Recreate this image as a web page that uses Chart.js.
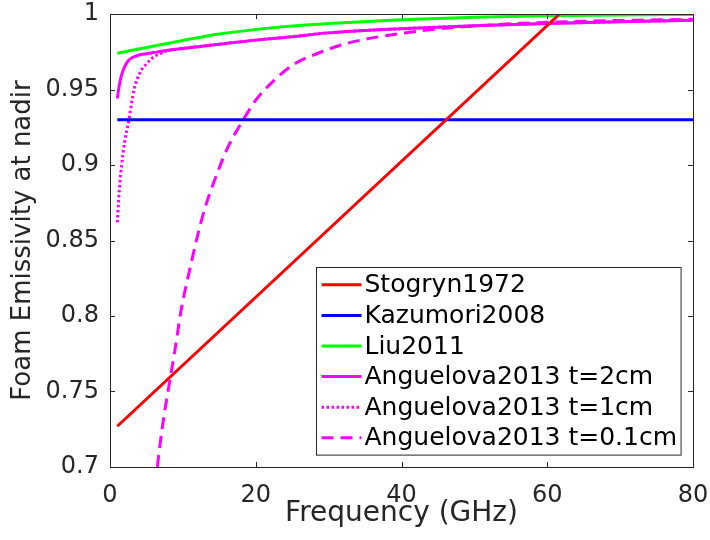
<!DOCTYPE html>
<html><head><meta charset="utf-8">
<script src="https://cdn.jsdelivr.net/npm/chart.js@4/dist/chart.umd.min.js"></script>
<style>html,body{margin:0;padding:0;background:#fff;}#wrap{width:710px;height:540px;}</style>
</head><body><div id="wrap"><canvas id="c" width="710" height="540"></canvas></div>
<script>
// ---- data ----
const xTicks = [0, 20, 40, 60, 80];
const yTicks = [0.7, 0.75, 0.8, 0.85, 0.9, 0.95, 1];

const stogrynF = [1, 61.7];
const stogrynE = [0.727, 1.0];

const kazumoriF = [1, 80];
const kazumoriE = [0.93, 0.93];

const liuF = [1, 5, 10, 15, 20, 25, 30, 40, 50, 60, 70, 80];
const liuE = [0.974, 0.9778, 0.9825, 0.9868, 0.9897, 0.992, 0.9937, 0.9962, 0.9978, 0.9988, 0.9994, 0.9997];

const ang2F = [1, 1.25, 1.5, 1.75, 2, 2.5, 3, 3.5, 4, 5, 6, 8, 10, 15, 20, 25, 30, 40, 50, 60, 70, 80];
const ang2E = [0.944, 0.952, 0.958, 0.962, 0.965, 0.969, 0.971, 0.972, 0.9728, 0.9737, 0.9745, 0.976, 0.9772, 0.980, 0.9827, 0.985, 0.9875, 0.9903, 0.9922, 0.9937, 0.9949, 0.9958];

const ang1F = [1, 1.3, 1.6, 2, 2.6, 3.3, 4.1, 5, 6, 7, 8, 10, 15, 20, 25, 30, 40, 50, 60, 70, 80];
const ang1E = [0.862, 0.885, 0.900, 0.915, 0.930, 0.950, 0.961, 0.967, 0.9715, 0.974, 0.9758, 0.9772, 0.980, 0.9827, 0.985, 0.9875, 0.9903, 0.9922, 0.9937, 0.9949, 0.9958];

const ang01F = [6, 6.5, 7.2, 8.2, 8.9, 9.8, 11, 11.9, 13, 14.2, 16.2, 18.3, 20, 22.4, 25, 28.8, 32.5, 37, 44.8, 55, 65, 80];
const ang01E = [0.675, 0.70, 0.727, 0.757, 0.777, 0.805, 0.832, 0.851, 0.871, 0.888, 0.912, 0.930, 0.943, 0.9555, 0.966, 0.9745, 0.9805, 0.985, 0.990, 0.9935, 0.9952, 0.9965];

const seriesNames = ['Stogryn1972', 'Kazumori2008', 'Liu2011', 'Anguelova2013 t=2cm', 'Anguelova2013 t=1cm', 'Anguelova2013 t=0.1cm'];

const pts = (f, e) => f.map((v, i) => ({x: v, y: e[i]}));

const FONT = '"DejaVu Sans", Verdana, sans-serif';
const AX = '#262626';

const boxTicks = {
  id: 'boxTicks',
  afterDraw(chart) {
    const {ctx, chartArea: a, scales: {x, y}} = chart;
    ctx.save();
    ctx.strokeStyle = AX; ctx.lineWidth = 1;
    ctx.strokeRect(Math.round(a.left) + 0.5, Math.round(a.top) + 0.5, Math.round(a.right - a.left), Math.round(a.bottom - a.top));
    const L = 5;
    ctx.beginPath();
    xTicks.forEach(v => {
      const px = Math.round(x.getPixelForValue(v)) + 0.5;
      ctx.moveTo(px, a.bottom); ctx.lineTo(px, a.bottom - L);
      ctx.moveTo(px, a.top); ctx.lineTo(px, a.top + L);
    });
    yTicks.forEach(v => {
      const py = Math.round(y.getPixelForValue(v)) + 0.5;
      ctx.moveTo(a.left, py); ctx.lineTo(a.left + L, py);
      ctx.moveTo(a.right, py); ctx.lineTo(a.right - L, py);
    });
    ctx.stroke();

    // legend box
    const fs = 25, rowH = 30.6;
    ctx.font = fs + 'px ' + FONT;
    let tw = 0;
    chart.data.datasets.forEach(d => { tw = Math.max(tw, ctx.measureText(d.label).width); });
    const lineLen = 40, pad = 5, gap = 3;
    const w = pad + lineLen + gap + tw + 4;
    const h = rowH * chart.data.datasets.length + 4;
    const bx = Math.round(a.right - 12 - w) + 0.5, by = Math.round(a.bottom - 12.5 - h) + 0.5;
    ctx.fillStyle = '#fff';
    ctx.fillRect(bx, by, w, h);
    ctx.strokeStyle = AX; ctx.lineWidth = 1;
    ctx.strokeRect(bx, by, w, h);
    chart.data.datasets.forEach((d, i) => {
      const cy = by + 2 + rowH * (i + 0.5);
      ctx.save();
      ctx.strokeStyle = d.borderColor; ctx.lineWidth = d.borderWidth;
      ctx.setLineDash(d.borderDash || []);
      ctx.beginPath(); ctx.moveTo(bx + pad, cy); ctx.lineTo(bx + pad + lineLen, cy); ctx.stroke();
      ctx.restore();
      ctx.fillStyle = '#000'; ctx.textBaseline = 'middle'; ctx.textAlign = 'left';
      ctx.fillText(d.label, bx + pad + lineLen + gap, cy + 1);
    });
    ctx.restore();
  }
};

const mk = (label, f, e, color, dash) => ({
  label, data: pts(f, e), borderColor: color, backgroundColor: color,
  borderWidth: 3, borderDash: dash, pointRadius: 0, fill: false,
  cubicInterpolationMode: 'monotone', borderCapStyle: 'butt'
});

new Chart(document.getElementById('c'), {
  type: 'line',
  data: {
    datasets: [
      mk(seriesNames[0], stogrynF, stogrynE, '#ff0000', []),
      mk(seriesNames[1], kazumoriF, kazumoriE, '#0000ff', []),
      mk(seriesNames[2], liuF, liuE, '#00ff00', []),
      mk(seriesNames[3], ang2F, ang2E, '#ff00ff', []),
      mk(seriesNames[4], ang1F, ang1E, '#ff00ff', [2.5, 2.5]),
      mk(seriesNames[5], ang01F, ang01E, '#ff00ff', [12, 7])
    ]
  },
  options: {
    responsive: false, animation: false,
    layout: {padding: {left: 0, right: 17, top: 14, bottom: 0}},
    plugins: {legend: {display: false}, tooltip: {enabled: false}},
    scales: {
      x: {
        type: 'linear', min: 0, max: 80,
        afterBuildTicks: s => { s.ticks = xTicks.map(v => ({value: v})); },
        afterFit: s => { s.height = 73; s.paddingLeft = 0; s.paddingRight = 0; },
        grid: {display: false, drawTicks: false},
        border: {display: true, color: AX, width: 1},
        ticks: {color: AX, font: {family: FONT, size: 24}, padding: 14, maxRotation: 0,
                callback: v => String(v)},
        title: {display: true, text: 'Frequency (GHz)', color: AX,
                font: {family: FONT, size: 28, lineHeight: 1}, padding: {top: 0, bottom: 12.5}}
      },
      y: {
        type: 'linear', min: 0.7, max: 1,
        afterBuildTicks: s => { s.ticks = yTicks.map(v => ({value: v})); },
        afterFit: s => { s.width = 110; s.paddingTop = 0; s.paddingBottom = 0; },
        grid: {display: false, drawTicks: false},
        border: {display: true, color: AX, width: 1},
        ticks: {color: AX, font: {family: FONT, size: 24}, padding: 11,
                callback: v => String(Number(v.toFixed(2)))},
        title: {display: true, text: 'Foam Emissivity at nadir', color: AX,
                font: {family: FONT, size: 26, lineHeight: 1}, padding: {top: 10.5, bottom: 0}}
      }
    }
  },
  plugins: [boxTicks]
});
</script>
</body></html>
